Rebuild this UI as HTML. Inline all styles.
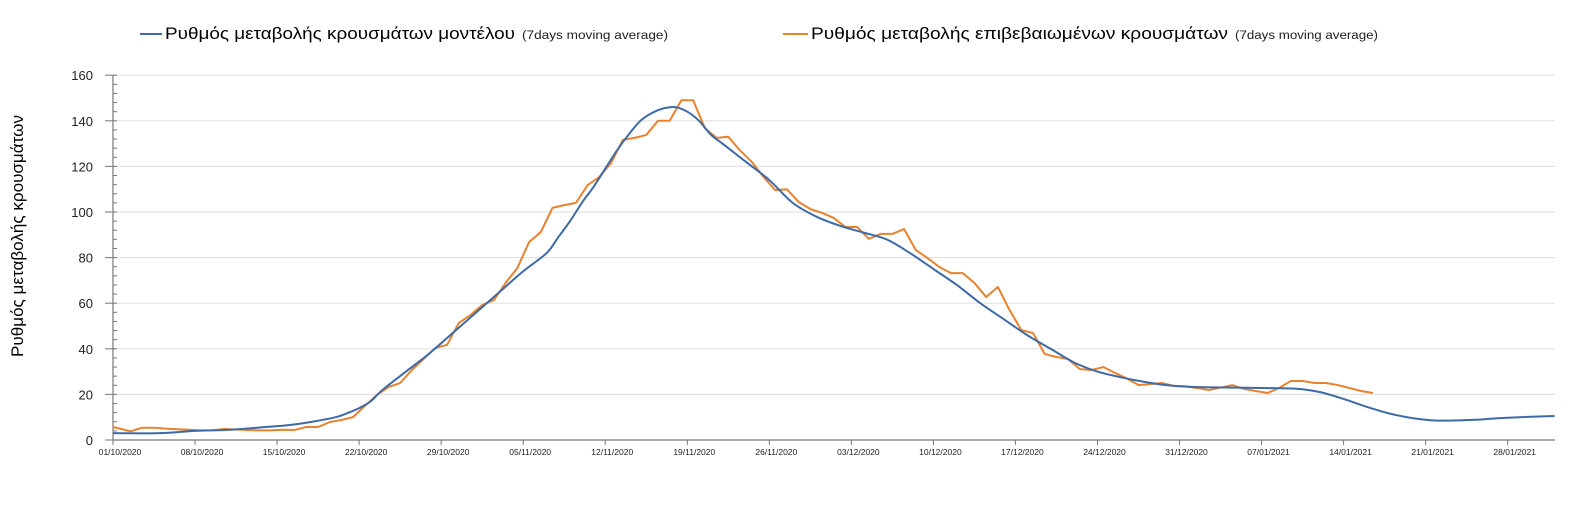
<!DOCTYPE html>
<html><head><meta charset="utf-8"><style>
body{margin:0;background:#fff;}
svg{display:block;font-family:"Liberation Sans","DejaVu Sans",sans-serif;}
</style></head><body>
<svg id="chart" width="1594" height="526" viewBox="0 0 1594 526" xmlns="http://www.w3.org/2000/svg">
<g>
 <g>
  <line x1="140" y1="34" x2="162" y2="34" stroke="#3e6aa8" stroke-width="2"/>
  <text x="165" y="39" font-size="16.5" fill="#000" textLength="350" lengthAdjust="spacingAndGlyphs">Ρυθμός μεταβολής κρουσμάτων μοντέλου</text>
  <text x="522" y="39" font-size="11.5" fill="#222" textLength="146" lengthAdjust="spacingAndGlyphs">(7days moving average)</text>
 </g>
 <g>
  <line x1="783" y1="34" x2="808" y2="34" stroke="#e8822e" stroke-width="2"/>
  <text x="811" y="39" font-size="16.5" fill="#000" textLength="417" lengthAdjust="spacingAndGlyphs">Ρυθμός μεταβολής επιβεβαιωμένων κρουσμάτων</text>
  <text x="1235" y="39" font-size="11.5" fill="#222" textLength="143" lengthAdjust="spacingAndGlyphs">(7days moving average)</text>
 </g>
</g>
<text transform="translate(23,236) rotate(-90)" text-anchor="middle" font-size="16.5" fill="#000" textLength="242" lengthAdjust="spacingAndGlyphs">Ρυθμός μεταβολής κρουσμάτων</text>
<g id="grid"></g><g id="axes"></g><g id="series"></g>
</svg>
<script>
const yTicks = [0,20,40,60,80,100,120,140,160];
const xTickLabels = ["01/10/2020","08/10/2020","15/10/2020","22/10/2020","29/10/2020","05/11/2020","12/11/2020","19/11/2020","26/11/2020","03/12/2020","10/12/2020","17/12/2020","24/12/2020","31/12/2020","07/01/2021","14/01/2021","21/01/2021","28/01/2021"];
const modelDays = [0,4,7,10,13,15,17,19,20,21,22,23,25,27,29,31,33,35,37,38,39,40,41,42,43,44,45,46,47,48,49,50,51,52,53,54,56,58,60,62,64,66,68,70,72,74,76,78,80,82,84,86,88,90,92,95,98,101,103,105,107,109,111,113,116,118,120,123];
const modelVals = [3,3,4,4.5,5.7,6.5,8,10,11.8,14,17,22,30,38,47,56,65,74,82,89,96,104,111,119,127,134,140,143.5,145.5,146,144,140,134,130,126,122,114,104,98,94,91,88,82,75,68,60,53,46,40,34,30,27.5,25.5,24,23.3,23,22.8,22.5,21,18,14.5,11.5,9.5,8.5,8.8,9.5,10,10.5];
const confStartDay = 0;
const confVals = [5.7,3.8,5.4,5.4,5,4.7,4.5,4.2,4.3,4.8,4.6,4.4,4.2,4.2,4.5,4.4,5.7,5.7,7.9,8.8,10.1,15,19.7,23.2,25,30.7,35.5,40.4,41.7,51.3,54.8,59.2,61.4,68.9,75.4,86.8,91.2,101.8,103,104,111.8,115.4,121.5,131.6,132.5,133.8,140,140,149,149,136.8,132.5,133,127,122,115.4,109.6,110,104.4,101.3,99.6,97.4,93.4,93.4,88.2,90.4,90.4,92.5,83.3,79.8,75.9,73.2,73.2,68.9,62.7,67.1,57,48.2,46.9,37.7,36.4,35.5,31.1,30.7,32,29.4,27,24.1,24.5,25,23.7,23.5,22.8,21.9,23,24.1,22.4,21.5,20.6,22.8,25.9,25.9,25,25,24.1,22.8,21.5,20.6];

const NS="http://www.w3.org/2000/svg";
const X0=113, DX=11.72, Y0=440, PY=2.28, XR=1555;
const x=d=>X0+DX*d, y=v=>Y0-PY*v;
function mk(tag,attrs,parent){const e=document.createElementNS(NS,tag);for(const k in attrs)e.setAttribute(k,attrs[k]);parent.appendChild(e);return e;}
const grid=document.getElementById('grid'), axes=document.getElementById('axes'), series=document.getElementById('series');
yTicks.forEach(v=>{
  if(v>0){const g=mk('line',{x1:X0,x2:XR,y1:y(v),y2:y(v),stroke:'#e2e2e2','stroke-width':1.2},grid);
  
  }
  const t=mk('text',{x:93,y:y(v)+5,'text-anchor':'end','font-size':13,fill:'#222'},axes);t.textContent=v;
  
  
  mk('line',{x1:X0-8,x2:X0+4,y1:y(v),y2:y(v),stroke:'#777'},axes);
});
for(let v=4;v<160;v+=4){if(v%20)mk('line',{x1:X0,x2:X0+4,y1:y(v),y2:y(v),stroke:'#777'},axes);}
const ya=mk('line',{x1:X0,x2:X0,y1:y(160),y2:Y0,stroke:'#777','stroke-width':1.2},axes);


const xa=mk('line',{x1:X0,x2:XR,y1:Y0,y2:Y0,stroke:'#777','stroke-width':1.2},axes);


xTickLabels.forEach((l,i)=>{
  const xx=x(i*7);
  mk('line',{x1:xx,x2:xx,y1:Y0,y2:Y0+5,stroke:'#777'},axes);
  const t=mk('text',{x:xx+7,y:Y0+15,'text-anchor':'middle','font-size':8.5,fill:'#222'},axes);t.textContent=l;
  
  
});
const mp=modelDays.map((d,i)=>[x(d),y(modelVals[i])]);
let dstr='M'+mp[0][0]+','+mp[0][1];
for(let i=0;i<mp.length-1;i++){const p0=mp[Math.max(0,i-1)],p1=mp[i],p2=mp[i+1],p3=mp[Math.min(mp.length-1,i+2)];
 dstr+=` C${p1[0]+(p2[0]-p0[0])/6},${p1[1]+(p2[1]-p0[1])/6} ${p2[0]-(p3[0]-p1[0])/6},${p2[1]-(p3[1]-p1[1])/6} ${p2[0]},${p2[1]}`;}
const conf=mk('polyline',{points:confVals.map((v,i)=>x(confStartDay+i+(i?0.5:0))+','+y(v)).join(' '),fill:'none',stroke:'#e8822e','stroke-width':2,'stroke-linejoin':'round'},series);


const model=mk('path',{d:dstr,fill:'none',stroke:'#3e6aa8','stroke-width':2},series);


</script>
</body></html>
